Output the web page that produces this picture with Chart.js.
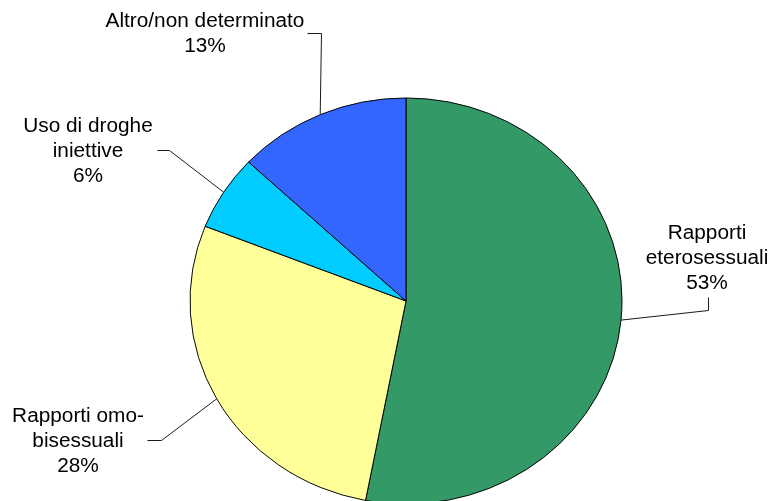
<!DOCTYPE html>
<html>
<head>
<meta charset="utf-8">
<script src="https://cdn.jsdelivr.net/npm/chart.js@4/dist/chart.umd.min.js"></script>
<style>
  html, body { margin: 0; padding: 0; background: #ffffff; overflow: hidden; }
  #wrap { position: relative; width: 771px; height: 501px; }
</style>
</head>
<body>
<div id="wrap"><canvas id="chart" width="771" height="501"></canvas></div>
<script>
// Transmission categories (label lines) and their shares in percent
const categories = [
  ['Rapporti', 'eterosessuali'],
  ['Rapporti omo-', 'bisessuali'],
  ['Uso di droghe', 'iniettive'],
  ['Altro/non determinato']
];
const shares = [53, 28, 6, 13];
const sliceColors = ['#339966', '#FFFF99', '#00CCFF', '#3366FF'];

// Vertical flattening of the pie (drawn as a slight ellipse)
const squash = 0.94;
// Slight horizontal widening of the callout lettering
const textStretch = 1.04;

// Where each callout sits: text centre x, first baseline y, and the elbow of its leader line
const callouts = [
  { x: 707, y: 239, path: [[708, 297], [708, 310]] },
  { x: 78,  y: 422, path: [[147, 440], [161, 440]] },
  { x: 88,  y: 132, path: [[157, 150], [169, 150]] },
  { x: 205, y: 27,  path: [[307, 33], [321, 33]] }
];

const squashPlugin = {
  id: 'squash',
  beforeDatasetsDraw(chart) {
    const arc = chart.getDatasetMeta(0).data[0];
    const ctx = chart.ctx;
    ctx.save();
    ctx.translate(0, arc.y);
    ctx.scale(1, squash);
    ctx.translate(0, -arc.y);
  },
  afterDatasetsDraw(chart) {
    chart.ctx.restore();
  }
};

const calloutPlugin = {
  id: 'callouts',
  afterDraw(chart) {
    const ctx = chart.ctx;
    const arcs = chart.getDatasetMeta(0).data;
    const lineH = 25;
    arcs.forEach((arc, i) => {
      const c = callouts[i];
      const lines = categories[i].concat([shares[i] + '%']);
      ctx.save();
      ctx.font = '20px "Liberation Sans", Arial, sans-serif';
      ctx.fillStyle = '#000000';
      ctx.textAlign = 'center';
      ctx.textBaseline = 'alphabetic';
      ctx.translate(c.x, 0);
      ctx.scale(textStretch, 1);
      lines.forEach((t, j) => ctx.fillText(t, 0, c.y + j * lineH));
      ctx.restore();

      // leader line ends on the middle of the slice's outer edge
      const mid = (arc.startAngle + arc.endAngle) / 2;
      const ex = arc.x + arc.outerRadius * Math.cos(mid);
      const ey = arc.y + arc.outerRadius * Math.sin(mid) * squash;
      ctx.save();
      ctx.beginPath();
      ctx.strokeStyle = '#1a1a1a';
      ctx.lineWidth = 1;
      ctx.moveTo(c.path[0][0] + 0.5, c.path[0][1] + 0.5);
      for (let k = 1; k < c.path.length; k++) ctx.lineTo(c.path[k][0] + 0.5, c.path[k][1] + 0.5);
      ctx.lineTo(ex, ey);
      ctx.stroke();
      ctx.restore();
    });
  }
};

new Chart(document.getElementById('chart'), {
  type: 'pie',
  data: {
    labels: categories.map(l => l.join(' ')),
    datasets: [{
      data: shares,
      backgroundColor: sliceColors,
      borderColor: '#000000',
      borderWidth: 1,
      clip: false
    }]
  },
  options: {
    responsive: false,
    animation: false,
    radius: 216,
    layout: { padding: { left: 41, top: 101, right: 0, bottom: 0 } },
    plugins: {
      legend: { display: false },
      tooltip: { enabled: false }
    },
    events: []
  },
  plugins: [squashPlugin, calloutPlugin]
});
</script>
</body>
</html>
